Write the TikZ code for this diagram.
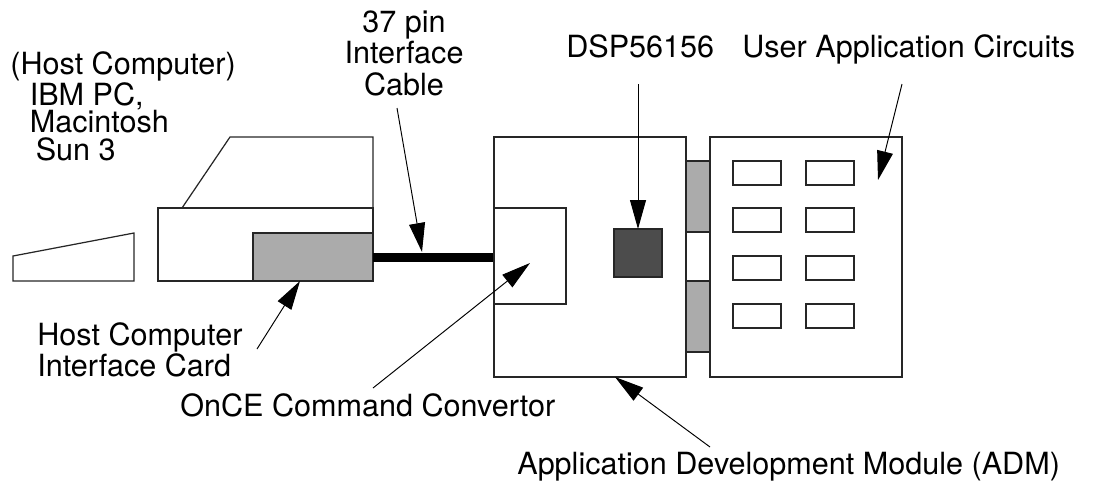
\documentclass[tikz,border=0pt]{standalone}
\usepackage{fontspec}
\setmainfont{TeX Gyre Heros}
\usetikzlibrary{arrows.meta}

\begin{document}
\begin{tikzpicture}[x=0.02cm,y=-0.02cm,
  lbl/.style={inner sep=0,anchor=base west,font=\fontsize{17.4}{17.6}\selectfont},
  part/.style={draw=black!85,line width=0.7pt},
  ptr/.style={-{Triangle[length=0.58cm,width=0.32cm]},line width=0.55pt}]
\useasboundingbox (0,0) rectangle (1098,481);
% host computer with keyboard and interface card
\draw[part] (13,281) -- (134,281) -- (134,233) -- (13,256) -- cycle;
\draw[part] (158,208) rectangle (373,281);
\draw[part] (182,208) -- (230,137) -- (373,137) -- (373,208);
\draw[part,fill=black!33] (253,233) rectangle (373,281);
\coordinate (card) at (300,281);
% cable
\draw[line width=0.18cm] (373,257) -- (494,257);
\coordinate (cable) at (422,252);
% application development module
\draw[part] (494,137) rectangle (686,377);
\draw[part] (494,208) rectangle (566,304);
\draw[part,fill=black!70] (614,229) rectangle (662,277);
\coordinate (once) at (530,263);
\coordinate (dsp) at (638,229);
\coordinate (adm) at (615,377);
\foreach \y in {161,281} \draw[part,fill=black!33] (686,\y) rectangle (710,\y+71);
% user application board
\draw[part] (710,137) rectangle (902,377);
\foreach \x in {733,806} \foreach \y in {161,208,256,304} \draw[part] (\x,\y) rectangle (\x+48,\y+24);
\coordinate (user) at (878,180);

% multi-line labels sit on the baseline of their last line
\node[lbl,align=left,font=\fontsize{17.4}{15.4}\selectfont] (hostlbl) at (10,160) {(Host Computer)\\\hspace*{0.39cm}IBM PC,\\\hspace*{0.39cm}Macintosh\\\hspace*{0.51cm}Sun 3};
\node[lbl,anchor=base,align=center,font=\fontsize{17.4}{17.9}\selectfont] (cablelbl) at (404,95) {37 pin\\Interface\\Cable};
\node[lbl] (dsplbl) at (566,57) {DSP56156};
\node[lbl] (userlbl) at (742,57) {User Application Circuits};
\node[lbl,align=left] (cardlbl) at (37,376) {Host Computer\\Interface Card};
\node[lbl] (oncelbl) at (180,416) {OnCE Command Convertor};
\node[lbl] (admlbl) at (517,474) {Application Development Module (ADM)};

\coordinate (cable tail) at (397,108);
\coordinate (dsp tail) at (638,84);
\coordinate (user tail) at (902,84);
\coordinate (card tail) at (257,349);
\coordinate (once tail) at (373,388);
\coordinate (adm tail) at (710,447);
\foreach \p in {cable,dsp,user,card,once,adm} \draw[ptr] (\p\space tail) -- (\p);
\end{tikzpicture}
\end{document}
